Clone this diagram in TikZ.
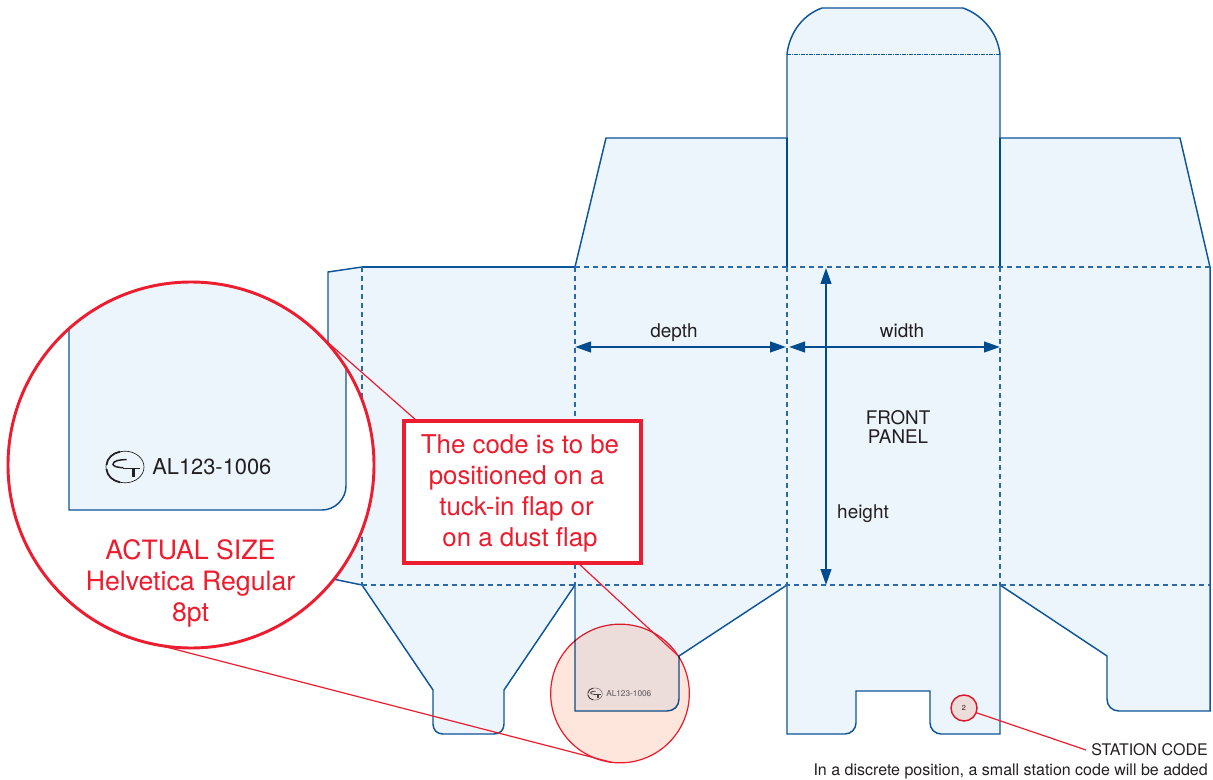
\documentclass[tikz,border=0pt]{standalone}
\usepackage{fontspec}
\setmainfont{TeX Gyre Heros}
\usetikzlibrary{arrows.meta}
\definecolor{panelblue}{HTML}{ECF5FC}
\definecolor{lineblue}{HTML}{0F5599}
\definecolor{foldblue}{HTML}{2A6AA8}
\definecolor{arrowblue}{HTML}{004B8D}
\definecolor{callred}{HTML}{ED1C2E}
\definecolor{inkgrey}{HTML}{231F20}
\definecolor{tintred}{HTML}{FFE6DD}
\tikzset{
  panel/.style={fill=panelblue,draw=lineblue,line width=1.1pt,line join=miter},
  fold/.style={draw=foldblue,line width=0.85pt,dash pattern=on 3.75pt off 3pt},
  perf/.style={draw=lineblue,line width=0.6pt,dash pattern=on 3pt off 0.8pt on 0.8pt off 0.8pt},
  dim/.style={draw=arrowblue,line width=1.55pt,{Triangle[length=12pt,width=8pt]}-{Triangle[length=12pt,width=8pt]}},
  leader/.style={draw=callred,line width=0.9pt},
  lab/.style={text=inkgrey,font=\fontsize{14.2pt}{15pt}\selectfont,inner sep=0pt},
  lens/.style={circle,inner sep=0pt,outer sep=0pt,draw=callred},
  pics/ctlogo/.style={code={
    \draw[inkgrey,line width={#1*0.5pt}] (0,0) ellipse (19 and 15.8);
    \draw[inkgrey,line width={#1*1.3pt}] (-18.5,-2) .. controls (-18,-9) and (-12,-14) .. (-5,-15.3);
    \draw[inkgrey,line width={#1*1.3pt}] (-18.5,2) .. controls (-18,9) and (-12,14) .. (-5,15.3);
    \draw[inkgrey,line width={#1*1.1pt}] (1.7,-7.3) .. controls (-6,-7.5) and (-12,-6) .. (-12,-2.7) .. controls (-12,-0.5) and (-6,0.7) .. (-1.7,0.7);
    \draw[inkgrey,line width={#1*1.3pt}] (-1.7,1.5) -- (15,1.5);
    \draw[inkgrey,line width={#1*2.2pt}] (8.3,1.5) -- (8.3,10);
  }}
}
\begin{document}
\begin{tikzpicture}[x=0.75pt,y=-0.75pt]
\useasboundingbox (0,0) rectangle (1213,780);
% top lid and front panel
\path[panel] (787,267) -- (787,54) .. controls (790,30) and (805,14) .. (822,8) -- (963,8) .. controls (980,14) and (997,30) .. (1000,54) -- (1000,267) -- (1000,585) -- (1000,734) -- (941,734) .. controls (935,734) and (930,729) .. (930,723) -- (930,691) -- (856,691) -- (856,723) .. controls (856,729) and (851,734) .. (845,734) -- (787,734) -- cycle;
% upper flaps
\path[panel] (575,267) -- (606,138) -- (787,138) -- (787,267);
\path[panel] (1000,267) -- (1000,138) -- (1180,138) -- (1210,267);
% body panels
\path[fill=panelblue] (362,267) rectangle (1210,585);
\draw[lineblue,line width=1.1pt] (362,267) -- (575,267);
% glue flap
\path[panel] (362,267) -- (328,272) -- (328,578) -- (362,585);
% bottom flaps
\path[panel] (362,585) -- (433,690) -- (433,724) .. controls (433,730) and (437,734) .. (443,734) -- (494,734) .. controls (500,734) and (504,730) .. (504,724) -- (504,690) -- (575,585);
\path[panel] (575,585) -- (575,711) -- (667,711) .. controls (674,711) and (679,706) .. (679,699) -- (679,656) -- (787,585);
\path[panel] (1000,585) -- (1107,656) -- (1107,699) .. controls (1107,706) and (1112,711) .. (1119,711) -- (1210,711) -- (1210,267);
% solid edges
\draw[arrowblue,line width=1.5pt] (787,138) -- (787,267) (1000,138) -- (1000,267);
% folds
\draw[fold] (575,267) -- (1210,267);
\draw[fold] (362,585) -- (1210,585);
\draw[fold] (362,267) -- (362,585);
\draw[fold] (575,267) -- (575,585);
\draw[fold] (787,267) -- (787,585);
\draw[fold] (1000,267) -- (1000,585);
\draw[perf] (787,54) -- (1000,54);
% dimensions
\coordinate (dl) at (575,347); \coordinate (dm) at (786,347);
\coordinate (wl) at (789,347); \coordinate (wr) at (1000,347);
\coordinate (ht) at (826,268); \coordinate (hb) at (826,585);
\draw[dim] (dl) -- (dm);
\draw[dim] (wl) -- (wr);
\draw[dim] (ht) -- (hb);
\node[lab,anchor=base] (depth) at (674,338) {depth};
\node[lab,anchor=base] (width) at (902,338) {width};
\node[lab,align=center,font=\fontsize{14.1pt}{14.3pt}\selectfont] (front) at (898,427) {FRONT\\PANEL};
\node[lab,anchor=base] (height) at (863,518) {height};
% small lens
\node[lens,line width=0.9pt,fill=tintred,blend mode=multiply,minimum size=104pt] (small) at (620,693.5) {};
\pic[scale=0.385,opacity=0.8] at (595,694) {ctlogo=0.5};
\node[lab,font=\fontsize{6.2pt}{7pt}\selectfont,anchor=west,text=inkgrey!75] (codesmall) at (606,694) {AL123-1006};
% station code
\node[lens,line width=1.1pt,fill=tintred,blend mode=multiply,minimum size=19.5pt] (stn) at (964,708) {};
\node[lab,font=\fontsize{5.5pt}{6pt}\selectfont] (stntext) at (964,708) {2};
\node[lab,font=\fontsize{12pt}{13pt}\selectfont,anchor=east] (stnlab) at (1208,749.7) {STATION CODE};
\node[lab,font=\fontsize{12pt}{13pt}\selectfont,anchor=east] (stnnote) at (1208,771) {In a discrete position, a small station code will be added};
\coordinate (stnend) at (1086,750);
\draw[leader] (stn.-21) -- (stnend);
% big lens
\node[circle,inner sep=0pt,fill=white,minimum size=274.5pt] (mag) at (191,465) {};
\begin{scope}
\clip (191,465) circle [x radius=183,y radius=183];
\path[panel] (69,200) -- (69,510) -- (322,510) .. controls (335,510) and (346,499) .. (346,486) -- (346,200);
\end{scope}
\pic at (125,467) {ctlogo=1};
\node[lab,font=\fontsize{16.4pt}{18pt}\selectfont,anchor=west] (codebig) at (152,467) {AL123-1006};
\node[inner sep=0pt,text=callred,align=center,font=\fontsize{20pt}{23.25pt}\selectfont] (actual) at (190.5,583) {ACTUAL SIZE\\Helvetica Regular\\8pt};
\node[lens,line width=2.2pt,minimum size=274.5pt] (magring) at (191,465) {};
% callout
\coordinate (ctop) at (417,421);
\coordinate (cbot) at (578,563);
\draw[leader] (mag.43) -- (ctop);
\draw[leader] (cbot) -- (small.33);
\draw[leader] (mag.261) -- (small.263);
\node[draw=callred,line width=2.4pt,fill=white,minimum width=177.75pt,minimum height=106.5pt,inner sep=0pt,outer sep=0pt] (callout) at (522.5,492) {};
\node[inner sep=0pt,text=callred,align=center,font=\fontsize{19.4pt}{23.25pt}\selectfont] (calltext) at (520,493.5) {The code is to be\\positioned on a\rule{5.25pt}{0pt}\\tuck-in flap or\rule{5.25pt}{0pt}\\on a dust flap};
\end{tikzpicture}
\end{document}
